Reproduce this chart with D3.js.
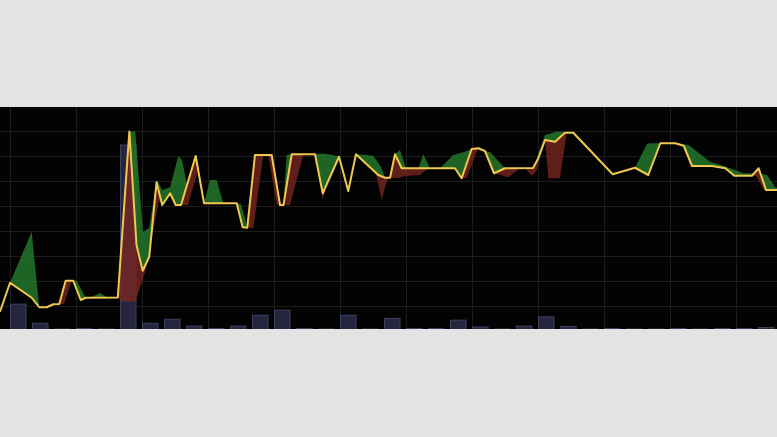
<!DOCTYPE html>
<html><head><meta charset="utf-8">
<script src="https://cdn.jsdelivr.net/npm/d3@7"></script>
<style>html,body{margin:0;padding:0;background:#e3e3e3;overflow:hidden}svg{display:block}</style>
</head><body>
<svg id="chart" width="777" height="437"></svg>
<script>
// time in hours, price in USD
const closeT = [-0.91,0,1.97,2.66,3.34,3.94,4.48,5.06,5.75,6.43,6.88,9.8,10.85,11.5,12.06,12.66,13.32,13.84,14.56,15.06,15.55,16.88,17.64,20.61,21.15,21.57,22.27,23.79,24.55,24.86,25.61,27.73,28.43,29.91,30.75,31.45,33.48,34.09,34.55,35.0,35.61,40.45,41.06,41.97,42.57,43.18,44.0,45.0,47.55,48.03,48.64,49.55,50.45,51.21,54.79,56.82,58.03,59.12,60.48,61.25,62.0,63.82,65.03,65.85,67.45,68.06,68.73,69.73];
const closeP = [207.7,219.3,213.3,209.5,209.5,210.7,210.8,220.1,220.1,212.4,213.3,213.4,279.8,234.4,224.1,229.7,259.5,250.4,255.1,250.4,250.4,270,251.1,251.1,241.5,241.3,270.4,270.4,250.4,250.4,270.7,270.7,255.1,269.7,256,270.7,262.4,261.3,261.3,270.7,265.1,265.1,261.1,272.8,273.1,272,263.1,265.1,265.2,269.1,276.4,275.7,279.3,279.3,262.7,265.3,262.4,275.1,275.1,274.1,266,266,265.1,262.1,262.1,265.1,256.4,256.4];

// upper band (green), null = gap
const highT = [0,1.97,2.66,null, 5.75,6.06,6.88,null, 7.27,8.18,8.82,null,
  10.85,11.39,12.09,12.64,13.36,13.84,14.56,15.3,15.64,16.18,null,
  17.64,18.18,18.79,19.39,null, 20.61,21.0,21.45,21.57,null, 24.86,25.15,25.61,null,
  27.73,28.43,29.36,29.91,null, 31.45,33.03,33.73,34.09,null, 35.0,35.45,36.0,null,
  37.12,37.57,38.18,null, 39.09,40.3,41.36,41.97,null, 43.18,43.64,45.0,null,
  47.64,48.03,48.64,49.7,50.45,51.21,null, 56.82,57.91,58.18,59.12,null,
  60.48,61.7,63.64,65.18,66.7,67.91,68.82,69.55,69.73];
const highP = [219.3,239.7,209.5,null, 220.1,220.1,213.3,null, 213.3,215.2,213.4,null,
  279.8,279.8,239.6,241.2,260.4,256.4,257.6,270,268.4,256.4,null,
  251.1,260.4,260.4,251.1,null, 251.1,250.8,243.6,241.3,null, 250.4,270.4,270.7,null,
  270.7,271,270.4,269.7,null, 270.7,270.1,265.6,261.3,null, 270.7,272.4,265.1,null,
  265.1,270.7,265.1,null, 265.1,270.4,271.7,272.8,null, 272,271.6,265.1,null,
  265.2,271.1,278.4,279.7,279.7,279.3,null, 265.3,274.8,275.1,275.1,null,
  275.1,274.4,267.7,265.6,263.1,263.1,262.4,257.6,257.2];

// lower band (red), null = gap
const lowT = [4.48,4.91,5.59,5.75,null,
  9.82,10.18,11.39,12.3,13.52,14.12,14.56,null,
  15.55,16.18,17.36,17.64,null, 21.15,22.12,23.03,23.3,null, 23.48,24.25,24.55,null,
  24.86,25.45,26.66,26.82,null, 28.0,28.43,28.82,null,
  33.27,33.79,34.27,34.55,35.27,35.91,37.27,38.0,null,
  41.06,41.52,42.43,42.57,null, 44.0,45.3,46.36,null,
  46.82,47.43,47.91,48.18,48.64,48.94,50.0,50.61,50.91,null,
  67.45,67.82,68.55,68.73];
const lowP = [210.8,210.8,220,220.1,null,
  213.4,211.7,211.7,223.7,251.7,251.7,255.1,null,
  250.4,250.4,268.4,251.1,null, 241.5,241.2,270.4,270.4,null, 270.4,250.4,250.4,null,
  250.4,250.4,270.4,270.7,null, 264.6,252.4,259,null,
  262.8,252.4,260.4,261.2,261.2,262,262.4,265.1,null,
  261.1,261.2,271.6,273.1,null, 263.1,261.5,265.1,null,
  265.1,262,264.4,270.4,276.4,261.1,261.1,279.3,279.3,null,
  262.1,262,256.4,256.4];

// volume per 2-hour bar
const volume = [135,31,0,3,0,1000,31,53,16,3,16,75,102,3,0,75,0,58,3,3,48,11,0,16,66,14,0,3,0,0,3,0,3,3,8];
const barHours = 2, barSpanHours = 1.5;
const priceTicks = [210,220,230,240,250,260,270,280];
const timeTicks = [0,6,12,18,24,30,36,42,48,54,60,66];

(function () {
const W = 777, H = 437, pTop = 107, pBottom = 329;
const svg = d3.select('#chart');
const x = d3.scaleLinear().domain([0, 66]).range([10, 736]);
const y = d3.scaleLinear().domain([200, 280]).range([331, 131]);
const yv = d3.scaleLinear().domain([0, 1000]).range([pBottom, 145]);

const zip = (ts, ps) => ts.map((t, i) => ({t, p: ps[i]}));
const closeD = zip(closeT, closeP), highD = zip(highT, highP), lowD = zip(lowT, lowP);

svg.append('rect').attr('width', W).attr('height', H).attr('fill', '#e3e3e3');
svg.append('rect').attr('x', 0).attr('y', pTop).attr('width', W).attr('height', pBottom - pTop).attr('fill', '#030303');

const defs = svg.append('defs');
defs.append('clipPath').attr('id', 'panel').append('rect')
  .attr('x', 0).attr('y', pTop).attr('width', W).attr('height', pBottom - pTop);
defs.append('clipPath').attr('id', 'aboveClose').append('path')
  .attr('d', d3.area().x(d => x(d.t)).y0(pTop).y1(d => y(d.p))(closeD));
defs.append('clipPath').attr('id', 'belowClose').append('path')
  .attr('d', d3.area().x(d => x(d.t)).y0(pBottom).y1(d => y(d.p))(closeD));

const g = svg.append('g').attr('clip-path', 'url(#panel)');

const gy = g.append('g').call(d3.axisRight(y).tickValues(priceTicks).tickSize(W).tickFormat(''));
const gx = g.append('g').attr('transform', `translate(0,${pTop})`)
  .call(d3.axisBottom(x).tickValues(timeTicks).tickSize(pBottom - pTop).tickFormat(''));
[gy, gx].forEach(a => {
  a.select('.domain').remove();
  a.selectAll('line').attr('stroke', '#1d1d1d').attr('stroke-width', 1);
});

g.append('g').selectAll('rect').data(volume).join('rect')
  .attr('x', (v, i) => x(i * barHours) + 0.5)
  .attr('width', x(barSpanHours) - x(0) - 1)
  .attr('y', v => yv(v))
  .attr('height', v => pBottom - yv(v) + 2)
  .attr('fill', '#25263d').attr('stroke', '#3e4060').attr('stroke-width', 1);

g.append('path').datum(highD)
  .attr('clip-path', 'url(#aboveClose)')
  .attr('d', d3.area().defined(d => d.p != null).x(d => x(d.t)).y0(pBottom).y1(d => y(d.p)))
  .attr('fill', '#23752a').attr('fill-opacity', 0.85);
g.append('path').datum(lowD)
  .attr('clip-path', 'url(#belowClose)')
  .attr('d', d3.area().defined(d => d.p != null).x(d => x(d.t)).y0(pTop).y1(d => y(d.p)))
  .attr('fill', '#7a2621').attr('fill-opacity', 0.78);

g.append('path').datum(closeD)
  .attr('d', d3.line().x(d => x(d.t)).y(d => y(d.p)))
  .attr('fill', 'none').attr('stroke', '#f0c850').attr('stroke-width', 2)
  .attr('stroke-linejoin', 'round');
})();
</script>
</body></html>
